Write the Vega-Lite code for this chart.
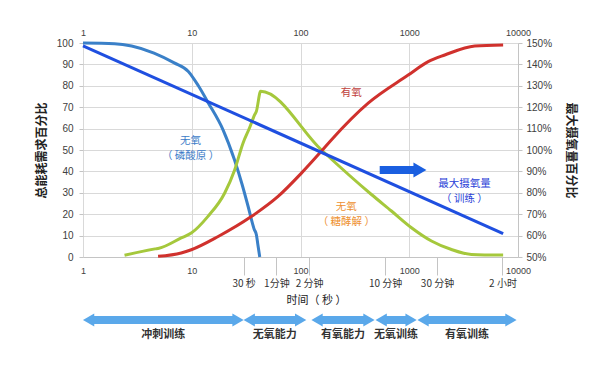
{
  "$schema": "https://vega.github.io/schema/vega-lite/v6.json",
  "background": "white",
  "padding": {"left": 35, "top": 28, "right": 5, "bottom": 5},
  "spacing": 5,
  "config": {
    "view": {"stroke": null},
    "font": "Liberation Sans, Noto Sans CJK SC",
    "axis": {
      "labelColor": "#404040",
      "labelFont": "Liberation Sans, Noto Sans CJK SC",
      "titleFont": "Noto Sans CJK SC",
      "domainColor": "#c4c4c4",
      "tickColor": "#c4c4c4",
      "gridColor": "#d9d9d9",
      "titleColor": "#222222"
    }
  },
  "vconcat": [
    {
      "width": 435,
      "height": 214,
      "layer": [
        {
          "data": {"values": [
            {"series": "phos", "t": 1, "v": 100},
            {"series": "phos", "t": 1.95, "v": 99.7},
            {"series": "phos", "t": 2.8, "v": 98.6},
            {"series": "phos", "t": 4.5, "v": 95.3},
            {"series": "phos", "t": 6.9, "v": 90.7},
            {"series": "phos", "t": 9.3, "v": 86.7},
            {"series": "phos", "t": 11.5, "v": 80},
            {"series": "phos", "t": 14.2, "v": 72},
            {"series": "phos", "t": 19.4, "v": 59.4},
            {"series": "phos", "t": 24.7, "v": 45.4},
            {"series": "phos", "t": 29, "v": 34},
            {"series": "phos", "t": 33, "v": 23.6},
            {"series": "phos", "t": 37.5, "v": 13},
            {"series": "phos", "t": 39.3, "v": 10.4},
            {"series": "phos", "t": 40.5, "v": 6},
            {"series": "phos", "t": 42.2, "v": 0},
            {"series": "gly", "t": 2.41, "v": 0.8},
            {"series": "gly", "t": 4.6, "v": 3.8},
            {"series": "gly", "t": 5, "v": 4.1},
            {"series": "gly", "t": 8, "v": 8.9},
            {"series": "gly", "t": 9.9, "v": 11.2},
            {"series": "gly", "t": 14.1, "v": 19},
            {"series": "gly", "t": 20.1, "v": 29.9},
            {"series": "gly", "t": 24.8, "v": 40.7},
            {"series": "gly", "t": 29.6, "v": 53.2},
            {"series": "gly", "t": 34.1, "v": 60.5},
            {"series": "gly", "t": 37.9, "v": 66.5},
            {"series": "gly", "t": 39.3, "v": 68.1},
            {"series": "gly", "t": 43, "v": 77.5},
            {"series": "gly", "t": 156, "v": 50},
            {"series": "gly", "t": 449, "v": 29.2},
            {"series": "gly", "t": 686, "v": 21.5},
            {"series": "gly", "t": 1048, "v": 13.7},
            {"series": "gly", "t": 1600, "v": 7.5},
            {"series": "gly", "t": 2445, "v": 3.5},
            {"series": "gly", "t": 3733, "v": 1.2},
            {"series": "gly", "t": 7300, "v": 0.9},
            {"series": "aer", "t": 4.9, "v": 0.3},
            {"series": "aer", "t": 8, "v": 1.9},
            {"series": "aer", "t": 9.9, "v": 3.4},
            {"series": "aer", "t": 17.5, "v": 9.6},
            {"series": "aer", "t": 35.3, "v": 18.9},
            {"series": "aer", "t": 62.2, "v": 28.3},
            {"series": "aer", "t": 102, "v": 39.2},
            {"series": "aer", "t": 156, "v": 49.5},
            {"series": "aer", "t": 192, "v": 54.7},
            {"series": "aer", "t": 419, "v": 71.9},
            {"series": "aer", "t": 977, "v": 85},
            {"series": "aer", "t": 1493, "v": 91.3},
            {"series": "aer", "t": 2121, "v": 94.4},
            {"series": "aer", "t": 4004, "v": 98.6},
            {"series": "aer", "t": 7300, "v": 99.1}
          ]},
          "mark": {"type": "line", "strokeWidth": 3, "interpolate": "monotone"},
          "encoding": {
            "x": {
              "field": "t", "type": "quantitative",
              "scale": {"type": "log", "domain": [1, 10000]},
              "axis": {"orient": "top", "values": [1, 10, 100, 1000, 10000], "format": "d", "grid": true, "tickSize": 0, "domain": false, "labelFontSize": 9, "labelPadding": 6, "labelFlush": false, "title": null}
            },
            "y": {
              "field": "v", "type": "quantitative",
              "scale": {"domain": [0, 100]},
              "axis": {"values": [0, 10, 20, 30, 40, 50, 60, 70, 80, 90, 100], "grid": true, "domain": false, "tickSize": 4, "labelPadding": 6, "labelFontSize": 10, "title": "总能耗需求百分比", "titleFontSize": 12, "titleFontWeight": "bold", "titlePadding": 8}
            },
            "color": {
              "field": "series", "type": "nominal",
              "scale": {"domain": ["phos", "gly", "aer"], "range": ["#3a80c8", "#a5c83c", "#d0312d"]},
              "legend": null
            }
          }
        },
        {
          "data": {"values": [
            {"t": 1, "p": 1.487},
            {"t": 7300, "p": 0.609}
          ]},
          "mark": {"type": "line", "strokeWidth": 3, "color": "#1f4fe0"},
          "encoding": {
            "x": {
              "field": "t", "type": "quantitative",
              "scale": {"type": "log", "domain": [1, 10000]},
              "axis": {"orient": "bottom", "values": [1, 10, 100, 1000, 10000], "format": "d", "grid": false, "tickSize": 0, "domain": true, "labelFontSize": 9, "labelPadding": 9, "labelFlush": false, "title": null}
            },
            "y": {
              "field": "p", "type": "quantitative",
              "scale": {"domain": [0.5, 1.5]},
              "axis": {"orient": "right", "format": ".0%", "values": [0.5, 0.6, 0.7, 0.8, 0.9, 1.0, 1.1, 1.2, 1.3, 1.4, 1.5], "grid": false, "domain": true, "tickSize": 4, "labelPadding": 4, "labelFontSize": 10, "title": "最大摄氧量百分比", "titleAngle": 90, "titleFontSize": 12, "titleFontWeight": "bold", "titlePadding": 12}
            }
          }
        },
        {
          "data": {"values": [
            {"series": "phos", "t": 9.75, "v": 54.4, "label": "无氧"},
            {"series": "phos", "t": 9.75, "v": 47.4, "label": "（ 磷酸原 ）"},
            {"series": "aer", "t": 293, "v": 76.5, "label": "有氧"},
            {"series": "gly", "t": 264, "v": 23.5, "label": "无氧"},
            {"series": "gly", "t": 264, "v": 16.5, "label": "（ 糖酵解 ）"},
            {"series": "vo2", "t": 3220, "v": 34.1, "label": "最大摄氧量"},
            {"series": "vo2", "t": 3220, "v": 27.1, "label": "（ 训练 ）"}
          ]},
          "mark": {"type": "text", "fontSize": 10.5, "font": "Noto Sans CJK SC"},
          "encoding": {
            "x": {
              "field": "t", "type": "quantitative",
              "scale": {"type": "log", "domain": [1, 10000]},
              "axis": {
                "orient": "bottom", "values": [30, 60, 120, 600, 1800, 7200],
                "labelExpr": "datum.value == 30 ? '30 秒' : datum.value == 60 ? '1分钟' : datum.value == 120 ? '2 分钟' : datum.value == 600 ? '10 分钟' : datum.value == 1800 ? '30 分钟' : '2 小时'",
                "tickSize": 18, "domain": false, "grid": false, "labelPadding": 3, "labelFontSize": 10, "labelFlush": false, "labelFont": "Noto Sans CJK SC", "labelColor": "#333333",
                "title": "时间（ 秒 ）", "titleFontSize": 11, "titleFontWeight": "normal", "titlePadding": 6, "titleX": 233
              }
            },
            "y": {"field": "v", "type": "quantitative", "scale": {"domain": [0, 100]}, "axis": null},
            "text": {"field": "label"},
            "color": {
              "field": "series", "type": "nominal",
              "scale": {"domain": ["phos", "aer", "gly", "vo2"], "range": ["#3c7cc8", "#c0403c", "#ee9030", "#2a3fd8"]},
              "legend": null
            }
          }
        },
        {
          "data": {"values": [{"from": 535, "to": 1439, "v": 40.7}]},
          "layer": [
            {
              "mark": {"type": "rule", "color": "#1a5fe0", "strokeWidth": 8, "x2Offset": -9},
              "encoding": {
                "x": {"field": "from", "type": "quantitative", "scale": {"type": "log", "domain": [1, 10000]}, "axis": null},
                "x2": {"field": "to"},
                "y": {"field": "v", "type": "quantitative", "scale": {"domain": [0, 100]}, "axis": null}
              }
            },
            {
              "mark": {"type": "point", "shape": "triangle-right", "filled": true, "opacity": 1, "size": 225, "color": "#1a5fe0", "xOffset": -6.5},
              "encoding": {
                "x": {"field": "to", "type": "quantitative", "scale": {"type": "log", "domain": [1, 10000]}, "axis": null},
                "y": {"field": "v", "type": "quantitative", "scale": {"domain": [0, 100]}, "axis": null}
              }
            }
          ]
        }
      ],
      "resolve": {
        "scale": {"y": "independent", "color": "independent"},
        "axis": {"x": "independent", "y": "independent"}
      }
    },
    {
      "width": 435,
      "height": 20,
      "data": {"values": [
        {"phase": "冲刺训练", "start": 1, "end": 30, "center": 5.48},
        {"phase": "无氧能力", "start": 30, "end": 113, "center": 58},
        {"phase": "有氧能力", "start": 126, "end": 480, "center": 246},
        {"phase": "无氧训练", "start": 490, "end": 1170, "center": 757},
        {"phase": "有氧训练", "start": 1190, "end": 9700, "center": 3397}
      ]},
      "layer": [
        {
          "mark": {"type": "rule", "color": "#5aa8ea", "strokeWidth": 8, "xOffset": 8, "x2Offset": -8},
          "encoding": {
            "x": {"field": "start", "type": "quantitative", "scale": {"type": "log", "domain": [1, 10000]}, "axis": null},
            "x2": {"field": "end"}
          }
        },
        {
          "mark": {"type": "point", "shape": "triangle-left", "filled": true, "opacity": 1, "size": 170, "color": "#5aa8ea", "xOffset": 5.6},
          "encoding": {
            "x": {"field": "start", "type": "quantitative", "scale": {"type": "log", "domain": [1, 10000]}, "axis": null}
          }
        },
        {
          "mark": {"type": "point", "shape": "triangle-right", "filled": true, "opacity": 1, "size": 170, "color": "#5aa8ea", "xOffset": -5.6},
          "encoding": {
            "x": {"field": "end", "type": "quantitative", "scale": {"type": "log", "domain": [1, 10000]}, "axis": null}
          }
        },
        {
          "mark": {"type": "text", "dy": 15, "fontSize": 11, "fontWeight": "bold", "color": "#333333", "font": "Noto Sans CJK SC"},
          "encoding": {
            "x": {"field": "center", "type": "quantitative", "scale": {"type": "log", "domain": [1, 10000]}, "axis": null},
            "text": {"field": "phase"}
          }
        }
      ]
    }
  ]
}
